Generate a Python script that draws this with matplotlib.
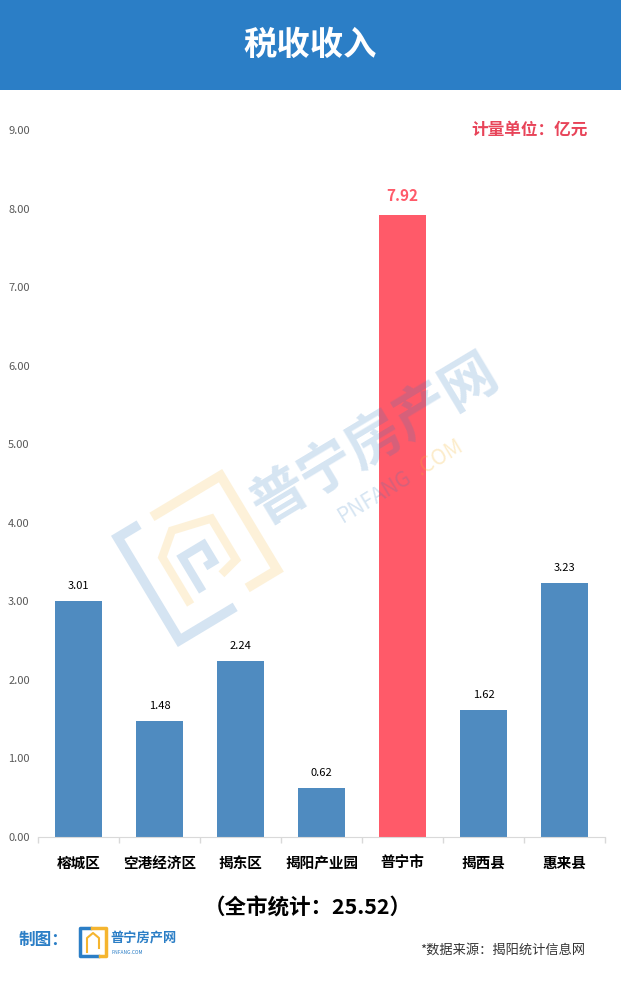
import matplotlib
matplotlib.use("Agg")
import matplotlib.pyplot as plt
import numpy as np
from matplotlib.patches import Rectangle
from matplotlib.lines import Line2D
import matplotlib.transforms as mtransforms

plt.rcParams['font.family'] = ['Noto Sans CJK SC', 'DejaVu Sans']

# data
districts = ['榕城区', '空港经济区', '揭东区', '揭阳产业园', '普宁市', '揭西县', '惠来县']
tax_income = [3.01, 1.48, 2.24, 0.62, 7.92, 1.62, 3.23]
highlight = '普宁市'
total_text = '（全市统计：25.52）'
y_ticks = [0, 1, 2, 3, 4, 5, 6, 7, 8, 9]

W, H = 621, 983
BLUE = '#4F8BC0'
RED = '#FF5A69'
HEAD = '#2B7EC6'


def fx(x):
    return x / W


def fy(y):
    return 1 - y / H


fig = plt.figure(figsize=(W / 100, H / 100), dpi=100)

# header band
fig.patches.append(Rectangle((0, fy(90)), 1, 90 / H, transform=fig.transFigure,
                             facecolor=HEAD, edgecolor='none', zorder=0))
fig.text(0.5, fy(45), '税收收入', color='white', fontsize=24, fontweight='bold',
         ha='center', va='center')

ax = fig.add_axes([fx(38), fy(837), fx(605) - fx(38), fy(130) - fy(837)])
x = np.arange(len(districts))
colors = [RED if d == highlight else BLUE for d in districts]
ax.bar(x, tax_income, width=0.57, color=colors, zorder=2)

for xi, v, d in zip(x, tax_income, districts):
    if d == highlight:
        ax.annotate(f'{v:.2f}', (xi, v), xytext=(0, 11), textcoords='offset pixels',
                    ha='center', va='bottom', fontsize=11, fontweight='bold', color=RED)
    else:
        ax.annotate(f'{v:.2f}', (xi, v), xytext=(0, 10), textcoords='offset pixels',
                    ha='center', va='bottom', fontsize=8, color='black')

ax.set_xlim(-0.5, len(districts) - 0.5)
ax.set_ylim(0, 9)
ax.set_yticks(y_ticks)
ax.set_yticklabels([f'{t:.2f}' for t in y_ticks], fontsize=8, color='#595959',
                   ha='left')
ax.tick_params(axis='y', length=0, pad=21.5)
ax.set_xticks(x)
ax.set_xticklabels(districts, fontsize=10.5, fontweight='bold', color='black')
ax.set_xticks(np.arange(-0.5, len(districts)), minor=True)
ax.tick_params(axis='x', which='major', length=0, pad=13)
ax.tick_params(axis='x', which='minor', length=4, color='#D9D9D9', width=1)
for s in ['top', 'right', 'left']:
    ax.spines[s].set_visible(False)
ax.spines['bottom'].set_color('#D9D9D9')

# unit note
fig.text(fx(588), fy(130), '计量单位：亿元', color='#E84459', fontsize=12,
         fontweight='bold', ha='right', va='center')

# watermark (semi transparent, above the bars)
ang = 31
wm_blue = '#2F7BC0'
wm_orange = '#F5B52F'
fig.text(fx(375), fy(440), '普宁房产网', fontsize=40, fontweight='bold', color=wm_blue,
         alpha=0.2, rotation=ang, ha='center', va='center', rotation_mode='anchor', zorder=6)
fig.text(fx(375), fy(497), 'PNFANG', fontsize=15, color=wm_blue, alpha=0.2,
         rotation=ang, ha='center', va='center', rotation_mode='anchor', zorder=6)
fig.text(fx(439), fy(458), '.COM', fontsize=15, color=wm_orange, alpha=0.25,
         rotation=ang, ha='center', va='center', rotation_mode='anchor', zorder=6)

# logo outline of the watermark, drawn in pixel space around its centre
cx, cy = 200, H - 558
tr = mtransforms.Affine2D().rotate_deg(ang).translate(cx, cy)


def add_line(pts, color, lw, alpha):
    pts = np.array(pts, dtype=float)
    ln = Line2D(pts[:, 0], pts[:, 1], color=color, lw=lw, alpha=alpha,
                transform=tr, solid_capstyle='butt', solid_joinstyle='miter', zorder=6)
    fig.add_artist(ln)


s = 60
add_line([[-s + 25, s], [-s, s], [-s, -s], [5, -s]], wm_blue, 7, 0.2)
add_line([[-s + 40, s], [s, s], [s, -s + 10], [25, -s + 10]], wm_orange, 7, 0.18)
add_line([[-32, -35], [-32, 20], [-10, 38], [30, 28], [30, -20], [10, -25]], wm_orange, 6, 0.18)
add_line([[-15, -30], [-15, 10], [10, 10], [10, -10], [0, -10]], wm_blue, 6, 0.2)

# footer
fig.text(fx(308), fy(908), total_text, fontsize=15.5, fontweight='bold',
         ha='center', va='center', color='black')
fig.text(fx(19), fy(940), '制图：', fontsize=12, fontweight='bold', color=HEAD,
         ha='left', va='center')

# small logo in the footer
fig.add_artist(Line2D([fx(90), fx(80), fx(80), fx(98)], [fy(928), fy(928), fy(956), fy(956)],
                      color=HEAD, lw=2.5, transform=fig.transFigure))
fig.add_artist(Line2D([fx(92), fx(106), fx(106), fx(100)], [fy(928), fy(928), fy(956), fy(956)],
                      color='#F5B52F', lw=2.5, transform=fig.transFigure))
fig.add_artist(Line2D([fx(87), fx(87), fx(93), fx(99), fx(99)], [fy(952), fy(938), fy(933), fy(938), fy(948)],
                      color='#F5B52F', lw=1.5, transform=fig.transFigure))
fig.text(fx(110), fy(938), '普宁房产网', fontsize=9.5, fontweight='bold', color=HEAD,
         ha='left', va='center')
fig.text(fx(112), fy(953), 'PNFANG.COM', fontsize=3.5, color=HEAD, ha='left', va='center')

fig.text(fx(585), fy(950), '*数据来源：揭阳统计信息网', fontsize=9.5, color='#333333',
         ha='right', va='center')

fig.savefig('out.png', dpi=100, facecolor='white')
